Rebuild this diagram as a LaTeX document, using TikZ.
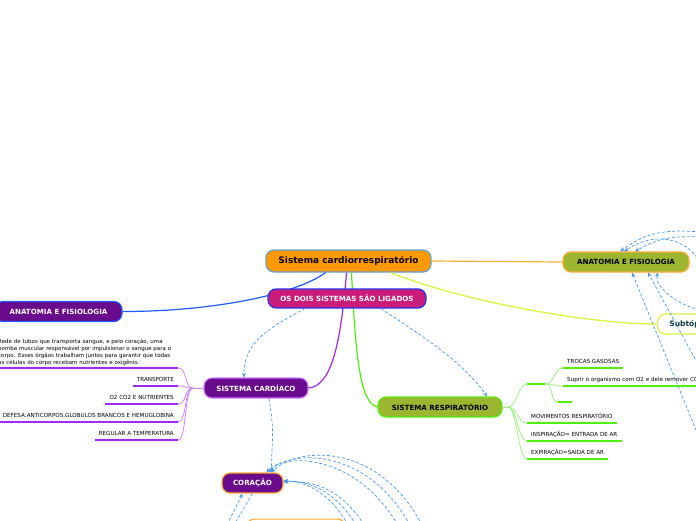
\documentclass[tikz,border=0pt]{standalone}
\usepackage{fontspec}
\setmainfont{DejaVu Sans}
\usetikzlibrary{arrows.meta}
\definecolor{mainorange}{RGB}{255,153,0}
\definecolor{mainedge}{RGB}{95,160,215}
\definecolor{linkpink}{RGB}{204,28,122}
\definecolor{linkblue}{RGB}{40,50,240}
\definecolor{deeppurple}{RGB}{106,10,140}
\definecolor{lilac}{RGB}{205,120,255}
\definecolor{violetline}{RGB}{160,40,240}
\definecolor{respolive}{RGB}{156,182,48}
\definecolor{leafgreen}{RGB}{80,240,10}
\definecolor{softgreen}{RGB}{160,240,130}
\definecolor{anablue}{RGB}{30,90,255}
\definecolor{limeline}{RGB}{214,245,60}
\definecolor{edgeorange}{RGB}{255,170,50}
\definecolor{relblue}{RGB}{70,150,235}
\definecolor{tealtext}{RGB}{10,60,70}

\begin{document}
\begin{tikzpicture}[x=1pt, y=-1pt,
    topic/.style={rounded corners=8pt, line width=1.2pt, minimum height=20pt,
                  inner sep=0pt, font=\fontsize{7.1}{8}\selectfont\bfseries},
    leaf/.style={font=\fontsize{5.6}{7}\selectfont, inner xsep=4pt, inner ysep=3pt,
                 text height=4pt, text depth=1pt},
    cardline/.style={violetline, line width=1.2pt},
    cardcurve/.style={lilac, line width=0.7pt},
    respline/.style={leafgreen, line width=1.2pt},
    respcurve/.style={softgreen, line width=0.8pt},
    rel/.style={relblue, line width=0.7pt, dash pattern=on 3pt off 2pt},
    >={Stealth[length=4.5pt,width=4pt]}]
  \clip (0,0) rectangle (696,520);

  % topics
  \node[topic, fill=mainorange, draw=mainedge, minimum width=165pt, minimum height=22pt,
        font=\fontsize{9}{10}\selectfont\bfseries] (main) at (348.5,261) {Sistema cardiorrespiratório};
  \node[topic, fill=deeppurple, draw=anablue, text=white, minimum width=127pt] (anaL) at (58.5,311.5) {ANATOMIA E FISIOLOGIA};
  \node[topic, fill=respolive, draw=edgeorange, minimum width=126pt] (anaR) at (626,262) {ANATOMIA E FISIOLOGIA};
  \node[topic, fill=white, draw=limeline, text=tealtext, anchor=west, minimum width=66pt,
        font=\fontsize{7.5}{8}\selectfont\bfseries] (sub) at (657,324) {Subtópico};
  \node[topic, fill=deeppurple, draw=lilac, text=white, minimum width=104pt] (card) at (256,388) {SISTEMA CARDÍACO};
  \node[topic, fill=respolive, draw=leafgreen, minimum width=124pt] (resp) at (440,407) {SISTEMA RESPIRATÓRIO};
  \node[topic, fill=deeppurple, draw=edgeorange, text=white, minimum width=61pt] (cor) at (252.5,483) {CORAÇÃO};
  \node[topic, fill=white, draw=edgeorange, minimum width=99pt, anchor=north] (low) at (296,518.5) {};

  \draw[anablue, line width=1.2pt] ([xshift=-23pt]main.south) .. controls +(-30,22) and +(90,0) .. (anaL.east);
  \draw[edgeorange, line width=1.2pt] (main.east) -- (anaR.west);
  \draw[limeline, line width=1.3pt] ([xshift=42pt]main.south) .. controls +(70,28) and +(-70,0) .. (sub.west);
  \draw[violetline, line width=1.2pt] ([xshift=-2pt]main.south) .. controls +(-6,75) and +(22,-2) .. (card.east);
  \draw[leafgreen, line width=1.2pt] ([xshift=3pt]main.south) .. controls +(4,80) and +(-18,-4) .. (resp.west);

  \node[topic, fill=linkpink, draw=linkblue, text=white, minimum width=158pt, minimum height=19pt] (link) at (347,298.5) {OS DOIS SISTEMAS SÃO LIGADOS};

  % cardiac subtopics
  \node[font=\fontsize{5.5}{7}\selectfont, anchor=south west, inner xsep=4pt, inner ysep=2.5pt,
        text width=176pt, align=left] (rede) at (-6,368)
    {Rede de tubos que transporta sangue, e pelo coração, uma\\
     bomba muscular responsável por impulsionar o sangue para o\\
     corpo. Esses órgãos trabalham juntos para garantir que todas\\
     as células do corpo recebam nutrientes e oxigênio.};
  \node[leaf, anchor=south east] (transp) at (178,386) {TRANSPORTE};
  \node[leaf, anchor=south east] (nutri) at (178,404) {O2 CO2 E NUTRIENTES};
  \node[leaf, anchor=south east] (defesa) at (178,422) {DEFESA:ANTICORPOS,GLOBULOS BRANCOS E HEMUGLOBINA};
  \node[leaf, anchor=south east] (temp) at (178,440) {REGULAR A TEMPERATURA};
  \coordinate (cj) at (193,388);
  \draw[cardcurve] (card.west) -- (cj);
  \foreach \n in {rede,transp,nutri,defesa,temp}{
    \draw[cardline] (\n.south west) -- (\n.south east);
    \draw[cardcurve] (cj) .. controls +(-9,0) and +(9,0) .. (\n.south east);
  }

  % respiratory subtopics
  \node[leaf, anchor=south west, minimum width=18pt] (blank) at (527,384) {};
  \node[leaf, anchor=south west] (trocas) at (563,368) {TROCAS GASOSAS};
  \node[leaf, anchor=south west] (suprir) at (563,386) {Suprir o organismo com O2 e dele remover CO2};
  \node[leaf, anchor=south west, minimum width=14pt] (vazio) at (558,402) {};
  \node[leaf, anchor=south west] (movim) at (527,423) {MOVIMENTOS RESPIRATÓRIO};
  \node[leaf, anchor=south west] (inspir) at (527,441) {INSPIRAÇÃO= ENTRADA DE AR};
  \node[leaf, anchor=south west] (expir) at (527,459) {EXPIRAÇÃO=SAIDA DE AR};
  \coordinate (rj) at (508,407);
  \draw[respcurve] (resp.east) -- (rj);
  \foreach \n in {blank,movim,inspir,expir}{
    \draw[respline] (\n.south west) -- (\n.south east);
    \draw[respcurve] (rj) .. controls +(9,0) and +(-9,0) .. (\n.south west);
  }
  \foreach \n in {trocas,suprir,vazio}{
    \draw[respline] (\n.south west) -- (\n.south east);
    \draw[respcurve] (blank.south east) .. controls +(9,0) and +(-9,0) .. (\n.south west);
  }

  % relationships
  \coordinate (r1) at (700,232);
  \coordinate (r2) at (700,237);
  \coordinate (r3) at (700,262);
  \coordinate (r4) at (700,440);
  \coordinate (r5) at (700,368);
  \coordinate (r6) at (700,309);
  \coordinate (c1) at (398,525);
  \coordinate (c2) at (410,525);
  \coordinate (c3) at (422,525);
  \coordinate (c4) at (348,525);
  \coordinate (c5) at (356,525);
  \coordinate (c6) at (364,525);
  \coordinate (c7) at (227,525);
  \coordinate (c8) at (234,525);

  \draw[rel,->] ([xshift=-42pt]link.south) .. controls +(-38,20) and +(0,-35) .. ([xshift=-12pt]card.north);
  \draw[rel,->] ([xshift=34pt]link.south) .. controls +(45,30) and +(-25,-35) .. ([xshift=47pt]resp.north);
  \draw[rel,->] ([xshift=13pt]card.south) .. controls +(6,35) and +(0,-30) .. ([xshift=19pt]cor.north);

  \draw[rel,->] (c1) .. controls +(-45,-75) and +(15,-18) .. ([xshift=14pt]cor.north);
  \draw[rel,->] (c2) .. controls +(-45,-80) and +(20,-22) .. ([xshift=16pt]cor.north);
  \draw[rel,->] (c3) .. controls +(-45,-85) and +(25,-25) .. ([xshift=19pt]cor.north);
  \draw[rel,->] (c4) .. controls +(-15,-28) and +(25,0) .. ([yshift=2pt]cor.east);
  \draw[rel,->] (c5) .. controls +(-18,-30) and +(30,0) .. ([yshift=2pt]cor.east);
  \draw[rel,->] (c6) .. controls +(-20,-32) and +(35,-2) .. ([yshift=1pt]cor.east);
  \draw[rel,->] (c7) -- ([xshift=-10pt]cor.south);
  \draw[rel] (cor.south) -- (c8);

  \draw[rel,->] (r1) .. controls +(-45,-4) and +(20,-14) .. ([xshift=-6pt]anaR.north);
  \draw[rel,->] (r2) .. controls +(-35,-2) and +(18,-10) .. ([xshift=9pt]anaR.north);
  \draw[rel,->] (r3) .. controls +(-15,-25) and +(30,-20) .. ([xshift=-2pt]anaR.north);
  \draw[rel,->] (r4) -- ([xshift=6pt]anaR.south);
  \draw[rel,->] (r5) -- ([xshift=22pt]anaR.south);
  \draw[rel,->] (r6) .. controls +(-15,0) and +(-5,15) .. ([xshift=32pt]anaR.south);
\end{tikzpicture}
\end{document}
